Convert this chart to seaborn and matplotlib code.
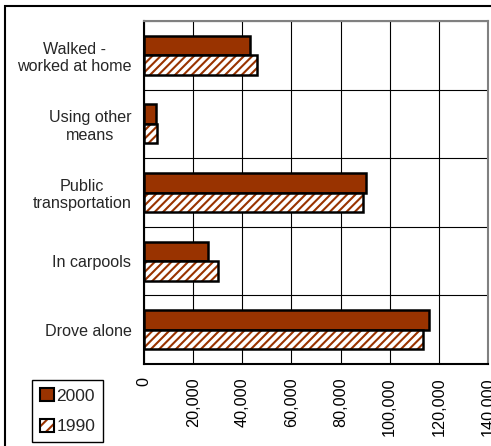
import matplotlib
matplotlib.use("Agg")
import numpy as np
import pandas as pd
import matplotlib.pyplot as plt
import seaborn as sns
from matplotlib.patches import Patch, Rectangle
from matplotlib.ticker import FuncFormatter, MultipleLocator

# commuting mode, workers
modes = ["Walked -\nworked at home", "Using other\nmeans", "Public\ntransportation",
         "In carpools", "Drove alone"]
workers_2000 = [43300, 4700, 90200, 26000, 116000]
workers_1990 = [46000, 5100, 89300, 30000, 113500]
years = ["2000", "1990"]
brown = "#993300"

df = pd.DataFrame({
    "Mode": modes * 2,
    "Workers": workers_2000 + workers_1990,
    "Year": ["2000"] * len(modes) + ["1990"] * len(modes),
})

sns.set_style("white")
plt.rcParams["font.family"] = ["Liberation Sans", "DejaVu Sans"]
plt.rcParams["hatch.linewidth"] = 1.5

fig = plt.figure(figsize=(4.91, 4.46), dpi=100)
ax = fig.add_axes([144 / 491, 1 - 364 / 446, (488 - 144) / 491, (364 - 21) / 446])

sns.barplot(data=df, x="Workers", y="Mode", hue="Year", hue_order=years,
            palette=[brown, brown], saturation=1, orient="h", width=0.57,
            legend=False, ax=ax, zorder=3)

# 2000 bars: solid brown, 1990 bars: white with brown hatching
for bar in ax.containers[0]:
    bar.set_edgecolor("black")
    bar.set_linewidth(1.8)
for bar in ax.containers[1]:
    bar.set_facecolor("white")
    bar.set_edgecolor(brown)
    bar.set_hatch("////")
    bar.set_linewidth(0)
    ax.add_patch(Rectangle(bar.get_xy(), bar.get_width(), bar.get_height(),
                           fill=False, edgecolor="black", linewidth=1.8, zorder=4))

ax.set_xlim(0, 140000)
ax.xaxis.set_major_locator(MultipleLocator(20000))
ax.xaxis.set_major_formatter(FuncFormatter(lambda v, p: f"{v:,.0f}"))
ax.tick_params(axis="x", direction="inout", length=7, width=1, rotation=90,
               labelsize=11.7, pad=6, colors="black")

ax.set_yticks(range(len(modes)), modes, multialignment="center", fontsize=11.6)
ax.set_yticks(np.arange(-0.5, len(modes), 1), minor=True)
ax.tick_params(axis="y", which="major", length=0, pad=9)
ax.tick_params(axis="y", which="minor", direction="inout", length=8, width=1)

ax.set_axisbelow(True)
ax.grid(axis="x", color="black", linewidth=0.8)
ax.grid(axis="y", which="minor", color="black", linewidth=0.8)
ax.grid(axis="y", which="major", visible=False)

ax.set_xlabel("")
ax.set_ylabel("")
for side in ["top", "right"]:
    ax.spines[side].set_color("#808080")
    ax.spines[side].set_linewidth(1.5)
for side in ["left", "bottom"]:
    ax.spines[side].set_color("black")
    ax.spines[side].set_linewidth(1.5)

handles = [
    Patch(facecolor=brown, edgecolor="black", linewidth=1.5),
    (Patch(facecolor="white", edgecolor=brown, hatch="///", linewidth=0),
     Patch(facecolor="none", edgecolor="black", linewidth=1.5)),
]
leg = fig.legend(handles, years, loc="lower left",
                 bbox_to_anchor=(32 / 491, 4 / 446), borderaxespad=0,
                 fontsize=12.5, fancybox=False, framealpha=1, edgecolor="black",
                 handlelength=0.8, handleheight=0.8, handletextpad=0.15,
                 labelspacing=0.85, borderpad=0.45)
leg.get_frame().set_linewidth(1)

# chart area border
fig.add_artist(Rectangle((5 / 491, -0.1), 1.2, 1 - 6 / 446 + 0.1,
                         transform=fig.transFigure, fill=False,
                         edgecolor="black", linewidth=1.5))

fig.savefig("out.png", dpi=100)
